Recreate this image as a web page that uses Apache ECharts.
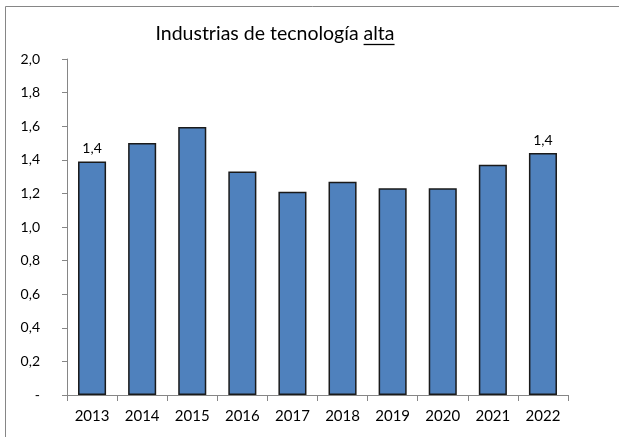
<!DOCTYPE html>
<html><head><meta charset="utf-8">
<script src="https://cdn.jsdelivr.net/npm/echarts@6/dist/echarts.min.js"></script>
<style>html,body{margin:0;padding:0;background:#fff}#c{width:619px;height:437px}</style>
</head><body><div id="c"></div>
<script>
var categories = ['2013','2014','2015','2016','2017','2018','2019','2020','2021','2022'];
var values = [1.39, 1.50, 1.595, 1.33, 1.21, 1.27, 1.23, 1.23, 1.37, 1.44];
var labelled = [0, 9];
var titleMain = 'Industrias de tecnología ';
var titleUnder = 'alta';

var FONT = 'Lato';
var titleFont = '19.5px ' + FONT;
var cv = document.createElement('canvas').getContext('2d');
cv.font = titleFont;
var wMain = cv.measureText(titleMain).width;
var wUnder = cv.measureText(titleUnder).width;
var total = wMain + wUnder;
var cx = 275;
var x0 = cx - total / 2;

var chart = echarts.init(document.getElementById('c'), null, {renderer: 'canvas'});
var fmt = function (v) { return v === 0 ? '-' : v.toFixed(1).replace('.', ','); };
chart.setOption({
  animation: false,
  grid: {left: 67, right: 51, top: 59, bottom: 42, containLabel: false},
  graphic: [
    {type: 'rect', shape: {x: 5.5, y: 6.5, width: 640, height: 460}, style: {fill: 'none', stroke: '#868686', lineWidth: 1}, silent: true},
    {type: 'text', x: x0, y: 24, style: {text: titleMain + titleUnder, font: titleFont, fill: '#000', verticalAlign: 'top'}},
    {type: 'line', shape: {x1: x0 + wMain, y1: 44.5, x2: x0 + total, y2: 44.5}, style: {stroke: '#000', lineWidth: 1.3}}
  ],
  xAxis: {
    type: 'category', data: categories,
    axisLine: {lineStyle: {color: '#868686', width: 1}},
    axisTick: {show: true, length: 6, lineStyle: {color: '#868686'}},
    axisLabel: {color: '#000', fontFamily: FONT, fontSize: 15, margin: 14}
  },
  yAxis: {
    type: 'value', min: 0, max: 2, interval: 0.2,
    splitLine: {show: false},
    axisLine: {show: true, lineStyle: {color: '#868686', width: 1}},
    axisTick: {show: true, length: 5, lineStyle: {color: '#868686'}},
    axisLabel: {color: '#000', fontFamily: FONT, fontSize: 14, margin: 27, formatter: fmt}
  },
  series: [{
    type: 'bar', barWidth: '56%',
    itemStyle: {color: '#4f81bd', borderColor: '#1a1a1a', borderWidth: 1.5},
    label: {show: false},
    data: values.map(function (v, i) {
      var d = {value: v};
      if (labelled.indexOf(i) >= 0) {
        d.label = {show: true, position: 'top', distance: 6, color: '#000', fontFamily: FONT, fontSize: 14,
          formatter: function (p) { return p.value.toFixed(1).replace('.', ','); }};
      }
      return d;
    })
  }]
});
</script></body></html>
